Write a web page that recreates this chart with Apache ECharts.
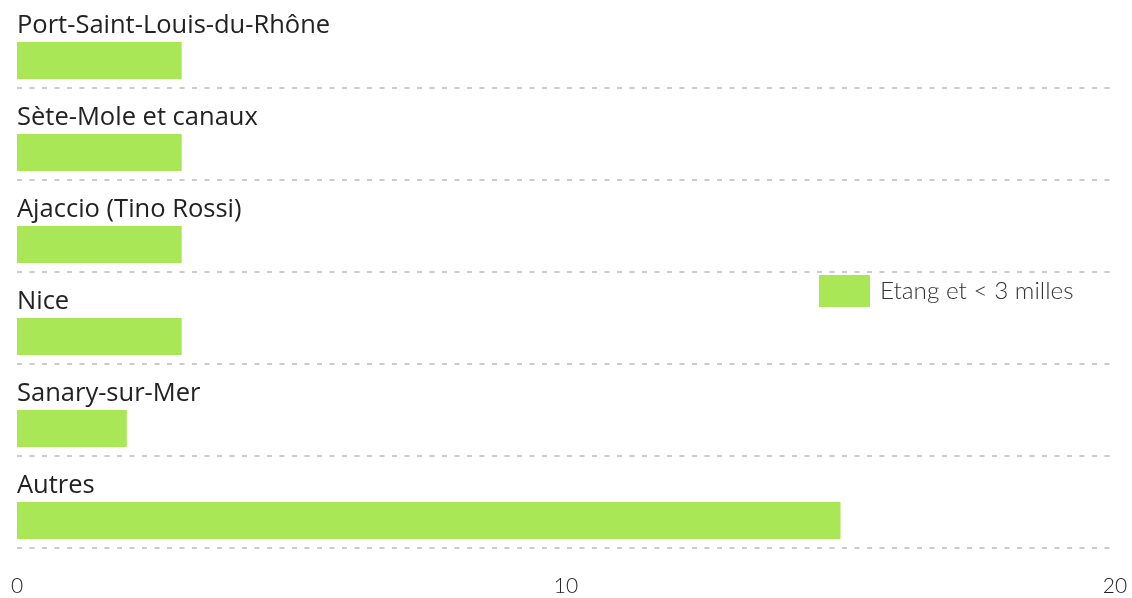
<!DOCTYPE html>
<html>
<head>
<meta charset="utf-8">
<script src="https://cdn.jsdelivr.net/npm/echarts@6/dist/echarts.min.js"></script>
<style>
  html, body { margin: 0; padding: 0; background: #fff; }
  #main { width: 1132px; height: 598px; }
</style>
</head>
<body>
<div id="main"></div>
<script>
// categories, top to bottom
var ports = ['Port-Saint-Louis-du-Rhône', 'Sète-Mole et canaux', 'Ajaccio (Tino Rossi)', 'Nice', 'Sanary-sur-Mer', 'Autres'];
var seriesName = 'Etang et < 3 milles';
var values = [3, 3, 3, 3, 2, 15];
var xTicks = [0, 10, 20];

var myChart = echarts.init(document.getElementById('main'));

myChart.setOption({
  animation: false,
  textStyle: { fontFamily: 'Lato' },
  legend: {
    left: 819,
    top: 275,
    padding: 0,
    itemWidth: 51,
    itemHeight: 32,
    icon: 'rect',
    textStyle: {
      fontSize: 24.3,
      fontWeight: 300,
      color: '#333',
      fontFamily: 'Lato',
      padding: [12, 0, 0, 5]
    },
    data: [seriesName]
  },
  grid: [
    // separators, labels, x ticks
    { left: 17, right: 17, top: -4, bottom: 50, outerBoundsMode: 'none' },
    // bars (shifted down inside each band)
    { left: 17, right: 17, top: 14.5, bottom: 31.5, outerBoundsMode: 'none' }
  ],
  xAxis: [
    {
      gridIndex: 0,
      type: 'value',
      min: xTicks[0],
      max: xTicks[xTicks.length - 1],
      interval: 10,
      axisLine: { show: false },
      axisTick: { show: false },
      splitLine: { show: false },
      axisLabel: {
        margin: 28,
        fontSize: 21,
        fontWeight: 300,
        color: '#222',
        fontFamily: 'Lato'
      }
    },
    {
      gridIndex: 1,
      type: 'value',
      min: xTicks[0],
      max: xTicks[xTicks.length - 1],
      show: false
    }
  ],
  yAxis: [
    {
      gridIndex: 0,
      type: 'category',
      inverse: true,
      data: ports,
      axisLine: { show: false },
      axisTick: { show: false },
      splitLine: {
        show: true,
        lineStyle: { color: '#cccccc', width: 2, type: [5, 7.5] }
      },
      axisLabel: {
        inside: true,
        margin: 0,
        fontSize: 25.5,
        lineHeight: 32,
        color: '#222',
        fontFamily: 'Open Sans',
        verticalAlign: 'middle',
        formatter: function (v) { return v + '\n '; }
      }
    },
    {
      gridIndex: 1,
      type: 'category',
      inverse: true,
      data: ports,
      show: false
    }
  ],
  series: [
    {
      name: seriesName,
      type: 'bar',
      xAxisIndex: 1,
      yAxisIndex: 1,
      barWidth: 37,
      itemStyle: { color: '#a9e756' },
      data: values
    }
  ]
});
</script>
</body>
</html>
